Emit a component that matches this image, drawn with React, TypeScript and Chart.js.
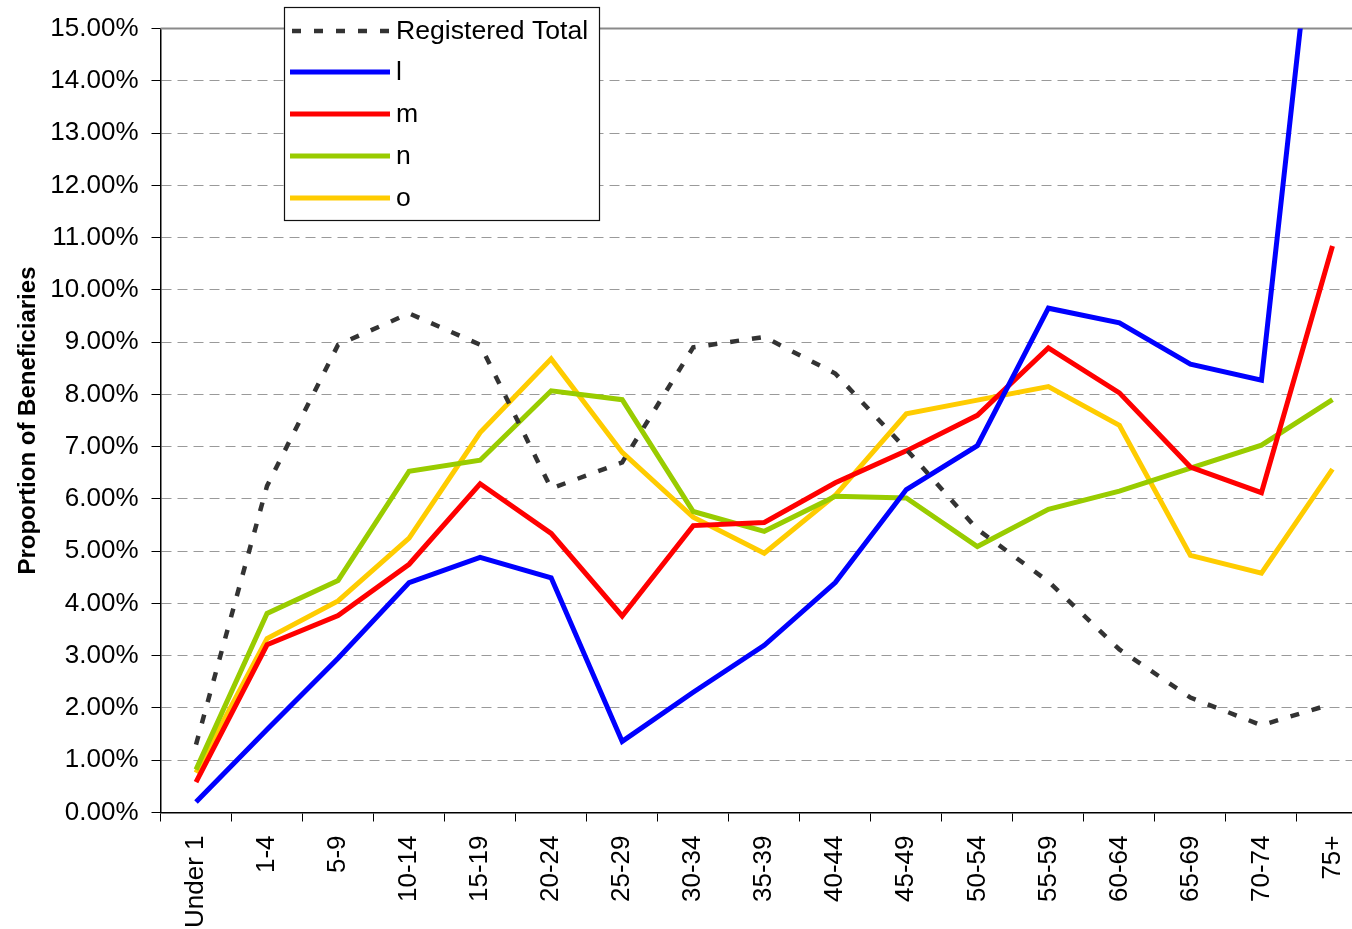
import React, { useEffect, useRef } from "react";
import { Chart, registerables } from "chart.js";

Chart.register(...registerables);

const categories = ["Under 1", "1-4", "5-9", "10-14", "15-19", "20-24", "25-29", "30-34", "35-39", "40-44", "45-49", "50-54", "55-59", "60-64", "65-69", "70-74", "75+"];

const registeredTotal = [1.3, 6.25, 8.95, 9.55, 8.95, 6.2, 6.7, 8.9, 9.1, 8.4, 6.95, 5.42, 4.42, 3.12, 2.2, 1.67, 2.08];
const seriesL = [0.2, 1.59, 2.95, 4.4, 4.88, 4.49, 1.36, 2.3, 3.2, 4.4, 6.18, 7.02, 9.65, 9.37, 8.58, 8.27, 20.6];
const seriesM = [0.58, 3.21, 3.77, 4.75, 6.29, 5.34, 3.76, 5.49, 5.55, 6.31, 6.92, 7.6, 8.89, 8.03, 6.61, 6.12, 10.84];
const seriesN = [0.82, 3.81, 4.44, 6.53, 6.74, 8.07, 7.9, 5.76, 5.38, 6.05, 6.02, 5.09, 5.8, 6.15, 6.59, 7.03, 7.9];
const seriesO = [0.76, 3.33, 4.05, 5.25, 7.27, 8.68, 6.89, 5.65, 4.96, 6.07, 7.63, 7.89, 8.15, 7.41, 4.92, 4.58, 6.57];

const yTitle = "Proportion of Beneficiaries";
const FONT = "'Liberation Sans', Arial, sans-serif";

const legendPlugin = {
  id: "boxLegend",
  beforeDatasetsDraw(chart: any) {
    const { ctx, chartArea } = chart;
    ctx.save();
    ctx.strokeStyle = "#8a8a8a";
    ctx.lineWidth = 2;
    ctx.beginPath();
    ctx.moveTo(chartArea.left, chartArea.top);
    ctx.lineTo(chartArea.right, chartArea.top);
    ctx.stroke();
    ctx.restore();
  },
  afterDraw(chart: any) {
    const { ctx } = chart;
    const bx = 284, by = 7, bw = 315, bh = 213;
    ctx.save();
    ctx.fillStyle = "#fff";
    ctx.fillRect(bx, by, bw, bh);
    ctx.strokeStyle = "#111";
    ctx.lineWidth = 1.2;
    ctx.strokeRect(bx + 0.5, by + 0.5, bw, bh);
    const rowY = [31, 72, 114, 156, 198];
    ctx.font = `26.6px ${FONT}`;
    ctx.textBaseline = "middle";
    ctx.textAlign = "left";
    chart.data.datasets.forEach((ds: any, i: number) => {
      const y = rowY[i];
      ctx.strokeStyle = ds.borderColor;
      ctx.lineWidth = ds.borderWidth;
      ctx.setLineDash(ds.borderDash || []);
      ctx.lineCap = "butt";
      ctx.beginPath();
      ctx.moveTo(i === 0 ? 292 : 290, y);
      ctx.lineTo(390, y);
      ctx.stroke();
      ctx.setLineDash([]);
      ctx.fillStyle = "#000";
      ctx.fillText(ds.label, 396, y + 1);
    });
    ctx.restore();
  },
};

export default function App() {
  const ref = useRef<HTMLCanvasElement | null>(null);
  useEffect(() => {
    if (!ref.current) return;
    const mk = (label: string, data: number[], color: string, width: number, dash?: number[]) => ({
      label,
      data,
      borderColor: color,
      backgroundColor: color,
      borderWidth: width,
      borderDash: dash || [],
      pointRadius: 0,
      pointHoverRadius: 0,
      tension: 0,
      fill: false,
    });
    const chart = new Chart(ref.current, {
      type: "line",
      data: {
        labels: categories,
        datasets: [
          mk("Registered Total", registeredTotal, "#333333", 4.5, [9, 13]),
          mk("l", seriesL, "#0000ff", 5),
          mk("m", seriesM, "#ff0000", 5),
          mk("n", seriesN, "#99cc00", 5),
          mk("o", seriesO, "#ffcc00", 5),
        ],
      },
      options: {
        responsive: false,
        maintainAspectRatio: false,
        animation: false,
        devicePixelRatio: 1,
        layout: { padding: { top: 28, right: 12, left: 0, bottom: 0 } },
        plugins: { legend: { display: false }, tooltip: { enabled: false }, title: { display: false } },
        scales: {
          x: {
            type: "category",
            offset: true,
            grid: {
              offset: true,
              drawOnChartArea: false,
              drawTicks: true,
              tickLength: 9,
              tickColor: "#000",
              tickWidth: 1,
            },
            border: { display: true, color: "#000", width: 1.5 },
            ticks: {
              autoSkip: false,
              maxRotation: 90,
              minRotation: 90,
              padding: 14,
              color: "#000",
              font: { family: FONT, size: 26 },
            },
            afterFit(scale: any) {
              scale.height = 116.5;
            },
          },
          y: {
            min: 0,
            max: 15,
            grid: {
              color: "#9a9a9a",
              lineWidth: 1,
              drawTicks: true,
              tickLength: 9,
              tickColor: "#000",
              tickWidth: 1,
              tickBorderDash: [],
            },
            border: { display: true, color: "#000", width: 1.5, dash: [10, 6] },
            ticks: {
              stepSize: 1,
              padding: 13,
              color: "#000",
              font: { family: FONT, size: 26 },
              callback: (v: any) => Number(v).toFixed(2) + "%",
            },
            title: {
              display: true,
              text: yTitle,
              color: "#000",
              font: { family: FONT, size: 24, weight: "bold" },
              padding: { top: 14, bottom: 0 },
            },
            afterFit(scale: any) {
              scale.width = 160.5;
            },
          },
        },
      },
      plugins: [legendPlugin],
    } as any);
    return () => chart.destroy();
  }, []);
  return (
    <div style={{ position: "fixed", left: 0, top: 0, width: 1352, height: 929, overflow: "hidden", background: "#fff" }}>
      <canvas ref={ref} width={1380} height={929} style={{ display: "block", width: 1380, height: 929 }} />
    </div>
  );
}
